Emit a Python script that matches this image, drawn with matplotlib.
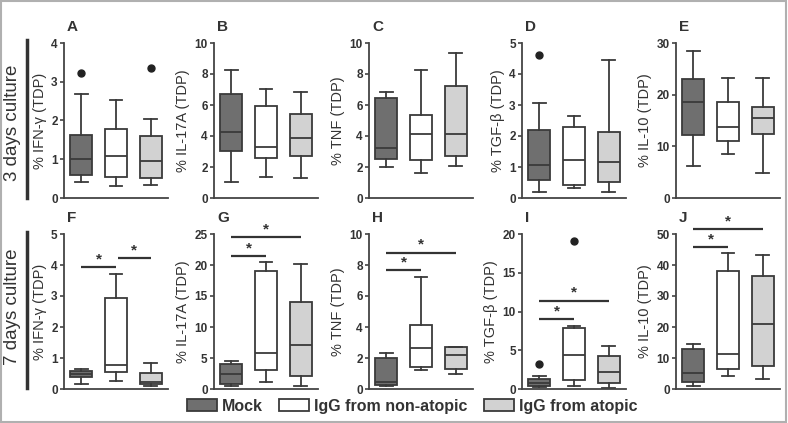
import matplotlib
matplotlib.use('Agg')
import matplotlib.pyplot as plt
from matplotlib.patches import Patch, Rectangle
from matplotlib.lines import Line2D

plt.rcParams['font.family'] = ['Liberation Sans', 'DejaVu Sans']

groups = ['Mock', 'IgG from non-atopic', 'IgG from atopic']
colors = ['#6f6f6f', '#ffffff', '#d2d2d2']
edge = '#3a3a3a'

# [low whisker, Q1, median, Q3, high whisker] for mock, non-atopic, atopic
ifng_3d = [[0.41, 0.59, 1.00, 1.63, 2.69], [0.30, 0.53, 1.09, 1.78, 2.54], [0.33, 0.51, 0.95, 1.60, 2.05]]
ifng_3d_out = [[3.22], [], [3.35]]
il17_3d = [[1.05, 3.05, 4.25, 6.70, 8.25], [1.35, 2.60, 3.30, 5.95, 7.05], [1.30, 2.70, 3.90, 5.45, 6.85]]
tnf_3d = [[2.00, 2.50, 3.25, 6.45, 6.85], [1.60, 2.45, 4.10, 5.35, 8.25], [2.05, 2.70, 4.15, 7.20, 9.35]]
tgfb_3d = [[0.20, 0.57, 1.07, 2.18, 3.05], [0.33, 0.42, 1.24, 2.28, 2.65], [0.20, 0.53, 1.16, 2.13, 4.45]]
tgfb_3d_out = [[4.6], [], []]
il10_3d = [[6.2, 12.1, 18.5, 23.1, 28.4], [8.6, 11.05, 13.8, 18.6, 23.3], [4.85, 12.3, 15.4, 17.6, 23.2]]

ifng_7d = [[0.15, 0.38, 0.50, 0.59, 0.65], [0.27, 0.54, 0.78, 2.95, 3.72], [0.11, 0.15, 0.22, 0.52, 0.84]]
il17_7d = [[0.55, 0.80, 2.40, 4.00, 4.50], [1.05, 3.00, 5.80, 19.1, 20.5], [0.45, 2.10, 7.05, 14.0, 20.2]]
tnf_7d = [[0.22, 0.24, 0.43, 2.02, 2.30], [1.20, 1.40, 2.62, 4.10, 7.20], [1.00, 1.27, 2.19, 2.69, 2.73]]
tgfb_7d = [[0.20, 0.43, 0.73, 1.30, 1.72], [0.43, 1.15, 4.35, 7.90, 8.13], [0.13, 0.77, 2.20, 4.30, 5.55]]
tgfb_7d_out = [[3.2], [19.1], []]
il10_7d = [[1.1, 2.3, 5.2, 13.0, 14.4], [4.2, 6.6, 11.3, 38.1, 43.9], [3.1, 7.5, 20.9, 36.6, 43.1]]

# significance bars: (from group, to group, height)
sig_ifng_7d = [(1, 2, 3.93), (2.06, 3, 4.22)]
sig_il17_7d = [(1, 2, 21.5), (1, 3, 24.5)]
sig_tnf_7d = [(1, 2, 7.68), (1, 3, 8.8)]
sig_tgfb_7d = [(1, 2, 9.07), (1, 3, 11.4)]
sig_il10_7d = [(1, 2, 45.8), (1, 3, 51.6)]

panels = [
    ('A', '% IFN-γ (TDP)', ifng_3d, ifng_3d_out, 4, 1, []),
    ('B', '% IL-17A (TDP)', il17_3d, None, 10, 2, []),
    ('C', '% TNF (TDP)', tnf_3d, None, 10, 2, []),
    ('D', '% TGF-β (TDP)', tgfb_3d, tgfb_3d_out, 5, 1, []),
    ('E', '% IL-10 (TDP)', il10_3d, None, 30, 10, []),
    ('F', '% IFN-γ (TDP)', ifng_7d, None, 5, 1, sig_ifng_7d),
    ('G', '% IL-17A (TDP)', il17_7d, None, 25, 5, sig_il17_7d),
    ('H', '% TNF (TDP)', tnf_7d, None, 10, 2, sig_tnf_7d),
    ('I', '% TGF-β (TDP)', tgfb_7d, tgfb_7d_out, 20, 5, sig_tgfb_7d),
    ('J', '% IL-10 (TDP)', il10_7d, None, 50, 10, sig_il10_7d),
]

W, H = 788, 423
fig = plt.figure(figsize=(W / 100, H / 100), dpi=100)

lefts = [64, 214, 369, 522, 676]
row_bottoms = [198, 389]
ax_w, ax_h = 104, 155

for i, (letter, label, stats, outs, ymax, ystep, sigs) in enumerate(panels):
    row, col = divmod(i, 5)
    ax = fig.add_axes([lefts[col] / W, 1 - row_bottoms[row] / H, ax_w / W, ax_h / H])
    bx = []
    for g in range(3):
        lo, q1, med, q3, hi = stats[g]
        bx.append({'whislo': lo, 'q1': q1, 'med': med, 'q3': q3, 'whishi': hi,
                   'fliers': outs[g] if outs else []})
    res = ax.bxp(bx, positions=[1, 2, 3], widths=0.64, capwidths=0.36,
                 patch_artist=True, showfliers=True,
                 boxprops=dict(edgecolor=edge, linewidth=1.3),
                 whiskerprops=dict(color=edge, linewidth=1.3),
                 capprops=dict(color=edge, linewidth=1.3),
                 medianprops=dict(color=edge, linewidth=1.3),
                 flierprops=dict(marker='o', markerfacecolor='#222', markeredgecolor='#222', markersize=5))
    for b, c in zip(res['boxes'], colors):
        b.set_facecolor(c)

    ax.set_xlim(0.5, 3.5)
    ax.set_ylim(0, ymax)
    ax.set_yticks(range(0, ymax + 1, ystep))
    ax.set_xticks([])
    for s in ['top', 'right']:
        ax.spines[s].set_visible(False)
    for s in ['left', 'bottom']:
        ax.spines[s].set_color('#444')
        ax.spines[s].set_linewidth(1.3)
    ax.tick_params(axis='y', length=3, width=1.2, color='#444', labelsize=8.5, labelcolor='#333', pad=1.5)
    for t in ax.get_yticklabels():
        t.set_fontweight('bold')
    ax.set_ylabel(label, fontsize=10.5, color='#333', labelpad=3)
    ax.text(0.03, 1.0 + 16 / ax_h, letter, transform=ax.transAxes, fontsize=11,
            fontweight='bold', color='#333', ha='left', va='center')

    for x1, x2, y in sigs:
        ax.plot([x1, x2], [y, y], color='#333', lw=1.6, clip_on=False, solid_capstyle='butt')
        ax.annotate('*', xy=((x1 + x2) / 2, y), xytext=(0, 0.5), textcoords='offset points',
                    ha='center', va='bottom', fontsize=11, fontweight='bold', color='#333',
                    annotation_clip=False)

# row labels with a vertical bar
fig.text(13 / W, 1 - 123 / H, '3 days culture', rotation=90, ha='center', va='center', fontsize=13.5, color='#333')
fig.text(13 / W, 1 - 307 / H, '7 days culture', rotation=90, ha='center', va='center', fontsize=13.5, color='#333')
fig.add_artist(Line2D([27 / W, 27 / W], [1 - 40 / H, 1 - 198 / H], transform=fig.transFigure, color='#333', lw=2.5))
fig.add_artist(Line2D([27 / W, 27 / W], [1 - 232 / H, 1 - 388 / H], transform=fig.transFigure, color='#333', lw=2.5))

handles = [Patch(facecolor=c, edgecolor=edge, linewidth=1.3) for c in colors]
fig.legend(handles, groups, loc='center', bbox_to_anchor=(0.523, 1 - 406 / H), ncol=3,
           frameon=False, prop=dict(weight='bold', size=11.5), handlelength=1.9,
           handleheight=0.85, columnspacing=1.0, handletextpad=0.3, labelcolor='#333',
           borderpad=0.2)

fig.patches.append(Rectangle((0.001, 0.002), 0.997, 0.996, transform=fig.transFigure,
                             fill=False, edgecolor='#b0b0b0', linewidth=1.5))

fig.savefig('out.png', dpi=100)
